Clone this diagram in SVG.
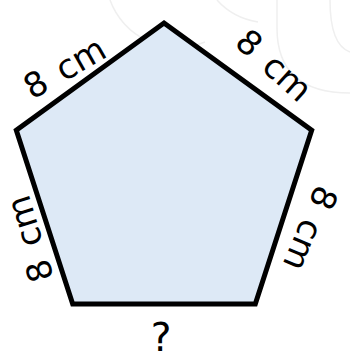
<svg xmlns="http://www.w3.org/2000/svg" width="350" height="360" viewBox="0 0 350 360">
  <style>
    .wm { fill: none; stroke: #efefef; stroke-width: 1.5; }
    .shape { fill: #dde9f6; stroke: #000; stroke-width: 5; stroke-linejoin: miter; }
    .lbl { font-family: "DejaVu Sans", sans-serif; font-size: 34px; fill: #000; }
    .q { font-family: "DejaVu Sans", sans-serif; font-size: 39px; fill: #000; text-anchor: middle; }
  </style>
  <rect width="350" height="360" fill="#ffffff"/>
  <g id="watermark">
    <path class="wm" d="M110,0 A72,72 0 0 0 205,42"/>
    <path class="wm" d="M217,0 Q233,18 258,22"/>
    <path class="wm" d="M277,0 L277,28 Q277,93 350,93"/>
    <path class="wm" d="M330,0 Q330,45 350,52"/>
  </g>
  <g id="pentagon">
    <polygon class="shape" points="164,23 311.7,130.3 255.3,303.9 72.7,303.9 16.3,130.3"/>
  </g>
  <g id="labels">
    <text class="lbl" transform="translate(32.35,100.1) rotate(-30)">8<tspan dx="4"> cm</tspan></text>
    <text class="lbl" transform="translate(233.2,44.5) rotate(42)">8<tspan dx="4"> cm</tspan></text>
    <text class="lbl" transform="translate(54,277.7) rotate(-107)">8<tspan dx="4"> cm</tspan></text>
    <text class="lbl" transform="translate(316.8,183.2) rotate(113)">8<tspan dx="4"> cm</tspan></text>
    <text class="q" x="161" y="351">?</text>
  </g>
</svg>
